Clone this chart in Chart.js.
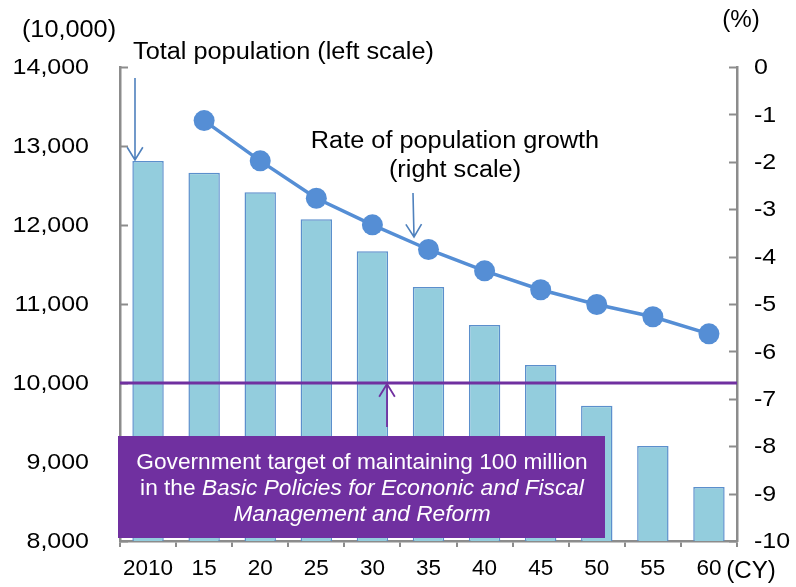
<!DOCTYPE html>
<html>
<head>
<meta charset="utf-8">
<script src="https://cdn.jsdelivr.net/npm/chart.js@4"></script>
<style>
  html, body { margin: 0; padding: 0; background: #fff; }
  #wrap { width: 796px; height: 587px; }
</style>
</head>
<body>
<div id="wrap"><canvas id="popChart" width="796" height="587"></canvas></div>
<script>
// years on the x axis
const years = ['2010', '15', '20', '25', '30', '35', '40', '45', '50', '55', '60'];
// total population, units of 10,000 people (left scale)
const totalPopulation = [12810, 12662, 12414, 12072, 11667, 11215, 10734, 10228, 9713, 9203, 8684];
// rate of population growth vs 2010, % (right scale)
const growthRate = [null, -1.13, -1.98, -2.77, -3.33, -3.85, -4.30, -4.70, -5.01, -5.27, -5.63];
// left / right scale ticks
const leftTicks = [8000, 9000, 10000, 11000, 12000, 13000, 14000];
const rightTicks = [0, -1, -2, -3, -4, -5, -6, -7, -8, -9, -10];
// government target: 100 million = 10,000 x 10,000
const targetPopulation = 10000;

const FONT = "'Liberation Sans', Arial, sans-serif";
const AXIS_GREY = '#8c8c8c';
const PURPLE = '#7030a0';
const LINE_BLUE = '#558ed5';

function drawArrow(ctx, x1, y1, x2, y2, color, width) {
    const ang = Math.atan2(y2 - y1, x2 - x1);
    const len = 15, spread = 0.55;
    ctx.save();
    ctx.strokeStyle = color;
    ctx.lineWidth = width;
    ctx.beginPath();
    ctx.moveTo(x1, y1);
    ctx.lineTo(x2, y2);
    ctx.moveTo(x2 - len * Math.cos(ang - spread), y2 - len * Math.sin(ang - spread));
    ctx.lineTo(x2, y2);
    ctx.lineTo(x2 - len * Math.cos(ang + spread), y2 - len * Math.sin(ang + spread));
    ctx.stroke();
    ctx.restore();
}

// text drawn a little wider than the plain font
function wideText(ctx, text, x, y, font, sx, align) {
    ctx.save();
    ctx.font = font;
    ctx.textAlign = align;
    ctx.textBaseline = 'middle';
    ctx.translate(x, y);
    ctx.scale(sx, 1);
    ctx.fillText(text, 0, 0);
    ctx.restore();
}

// inward tick marks, axis labels, target line, callouts and unit labels
const extras = {
    id: 'extras',
    afterDraw(chart) {
        const ctx = chart.ctx;
        const area = chart.chartArea;
        const y = chart.scales.y;
        const y1 = chart.scales.y1;
        const tickFont = '22.5px ' + FONT;

        ctx.save();
        ctx.strokeStyle = AXIS_GREY;
        ctx.lineWidth = 2;
        ctx.fillStyle = '#000';
        leftTicks.forEach(v => {
            const py = y.getPixelForValue(v);
            const ly = Math.round(py) + 0.5;
            ctx.beginPath(); ctx.moveTo(area.left, ly); ctx.lineTo(area.left + 8, ly); ctx.stroke();
            wideText(ctx, v.toLocaleString('en-US'), 89, py + 1, tickFont, 1.11, 'right');
        });
        rightTicks.forEach(v => {
            const py = y1.getPixelForValue(v);
            const ly = Math.round(py) + 0.5;
            ctx.beginPath(); ctx.moveTo(area.right - 8, ly); ctx.lineTo(area.right, ly); ctx.stroke();
            wideText(ctx, String(v), 754, py + 1, tickFont, 1.11, 'left');
        });

        // target line at 100 million
        const ty = y.getPixelForValue(targetPopulation);
        ctx.strokeStyle = PURPLE;
        ctx.lineWidth = 3;
        ctx.beginPath(); ctx.moveTo(area.left, ty); ctx.lineTo(area.right, ty); ctx.stroke();

        drawArrow(ctx, 387, 427, 387, ty + 1, PURPLE, 1.8);

        // target box
        ctx.fillStyle = PURPLE;
        ctx.fillRect(118, 436, 487, 102);
        ctx.fillStyle = '#fff';
        const boxSize = 21.5, boxSx = 1.055, cx = 362;
        wideText(ctx, 'Government target of maintaining 100 million', cx, 463, boxSize + 'px ' + FONT, boxSx, 'center');
        const pre = 'in the ';
        const ital = 'Basic Policies for Econonic and Fiscal';
        ctx.font = boxSize + 'px ' + FONT;
        const w1 = ctx.measureText(pre).width * boxSx;
        ctx.font = 'italic ' + boxSize + 'px ' + FONT;
        const w2 = ctx.measureText(ital).width * boxSx;
        const sx = cx - (w1 + w2) / 2;
        wideText(ctx, pre, sx, 489, boxSize + 'px ' + FONT, boxSx, 'left');
        wideText(ctx, ital, sx + w1, 489, 'italic ' + boxSize + 'px ' + FONT, boxSx, 'left');
        wideText(ctx, 'Management and Reform', cx, 515, 'italic ' + boxSize + 'px ' + FONT, boxSx, 'center');

        // callouts
        ctx.fillStyle = '#000';
        const labelFont = '23px ' + FONT;
        wideText(ctx, 'Total population (left scale)', 133, 53, labelFont, 1.1, 'left');
        wideText(ctx, 'Rate of population growth', 455, 142, labelFont, 1.1, 'center');
        wideText(ctx, '(right scale)', 455, 171, labelFont, 1.1, 'center');

        const barTop = y.getPixelForValue(totalPopulation[0]);
        drawArrow(ctx, 135, 78, 135, barTop - 1, '#4f81bd', 1.6);
        drawArrow(ctx, 413, 193, 414, 237, '#4f81bd', 1.6);

        // unit labels
        wideText(ctx, '(10,000)', 69, 31, labelFont, 1.1, 'center');
        wideText(ctx, '(%)', 741, 21, labelFont, 1.05, 'center');
        wideText(ctx, '(CY)', 751, 572, labelFont, 1.05, 'center');
        ctx.restore();
    }
};

new Chart(document.getElementById('popChart').getContext('2d'), {
    data: {
        labels: years,
        datasets: [
            {
                type: 'line',
                label: 'Rate of population growth',
                data: growthRate,
                yAxisID: 'y1',
                borderColor: LINE_BLUE,
                backgroundColor: LINE_BLUE,
                borderWidth: 3.5,
                pointRadius: 10.5,
                pointHoverRadius: 10.5,
                pointBorderWidth: 0,
                tension: 0,
                order: 0
            },
            {
                type: 'bar',
                label: 'Total population',
                data: totalPopulation,
                yAxisID: 'y',
                backgroundColor: '#93cddd',
                borderColor: '#5b8fcc',
                borderWidth: 1.5,
                barPercentage: 0.56,
                categoryPercentage: 1,
                order: 1
            }
        ]
    },
    options: {
        responsive: false,
        animation: false,
        layout: { padding: { top: 67, left: 0, right: 0, bottom: 0 } },
        plugins: {
            legend: { display: false },
            tooltip: { enabled: false }
        },
        scales: {
            x: {
                offset: true,
                afterFit: s => { s.height = 46; },
                grid: {
                    offset: true,
                    drawOnChartArea: false,
                    drawTicks: true,
                    tickLength: 6,
                    color: AXIS_GREY,
                    lineWidth: 2
                },
                border: { color: AXIS_GREY, width: 2.5 },
                ticks: {
                    color: '#000',
                    padding: 8,
                    maxRotation: 0,
                    autoSkip: false,
                    font: { family: FONT, size: 22.5 }
                }
            },
            y: {
                position: 'left',
                min: 8000,
                max: 14000,
                afterFit: s => { s.width = 120; },
                afterBuildTicks: s => { s.ticks = leftTicks.map(v => ({ value: v })); },
                grid: { drawOnChartArea: false, drawTicks: false },
                border: { color: AXIS_GREY, width: 2.5 },
                ticks: { display: false }
            },
            y1: {
                position: 'right',
                min: -10,
                max: 0,
                afterFit: s => { s.width = 59; },
                afterBuildTicks: s => { s.ticks = rightTicks.map(v => ({ value: v })); },
                grid: { drawOnChartArea: false, drawTicks: false },
                border: { color: AXIS_GREY, width: 2.5 },
                ticks: { display: false }
            }
        }
    },
    plugins: [extras]
});
</script>
</body>
</html>
